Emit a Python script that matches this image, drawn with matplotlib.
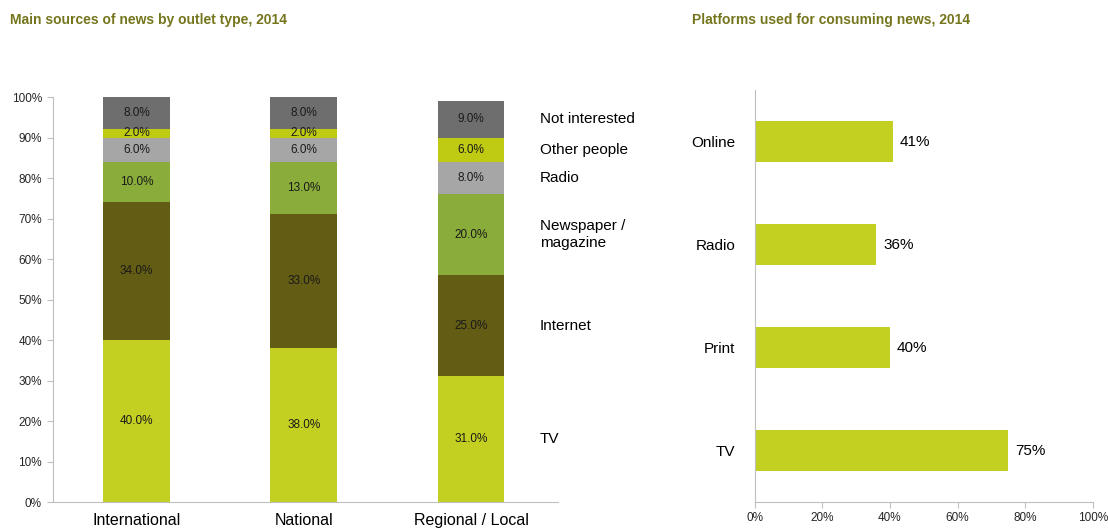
import numpy as np
import matplotlib
matplotlib.use('Agg')
import matplotlib.pyplot as plt

plt.rcParams['font.family'] = ['Liberation Sans', 'DejaVu Sans']

# left chart: main sources of news by outlet type
outlets = ['International', 'National', 'Regional / Local']
sources = ['TV', 'Internet', 'Newspaper /\nmagazine', 'Radio', 'Other people', 'Not interested']
tv = [40, 38, 31]
internet = [34, 33, 25]
newspaper = [10, 13, 20]
radio = [6, 6, 8]
other_people = [2, 2, 6]
not_interested = [8, 8, 9]
source_colors = ['#C4D021', '#635C14', '#8AAC3A', '#A6A6A6', '#BFCB12', '#6E6E6E']

# right chart: platforms used for consuming news
platforms = ['Online', 'Radio', 'Print', 'TV']
platform_share = [41, 36, 40, 75]

title_color = '#75751E'
axis_color = '#BFBFBF'

fig = plt.figure(figsize=(11.08, 5.28), dpi=100)

ax1 = fig.add_axes([0.0478, 0.0492, 0.4558, 0.767])
series = [tv, internet, newspaper, radio, other_people, not_interested]
x = np.arange(len(outlets))
bottom = np.zeros(len(outlets))
for name, vals, col in zip(sources, series, source_colors):
    vals = np.array(vals, dtype=float)
    ax1.bar(x, vals, 0.4, bottom=bottom, color=col)
    for xi, b, v in zip(x, bottom, vals):
        ax1.text(xi, b + v / 2, f'{v:.1f}%', ha='center', va='center',
                 fontsize=8.5, color='#1A1A1A')
    # series label next to the last bar
    ax1.text(2.41, bottom[-1] + vals[-1] / 2, name, ha='left', va='center',
             fontsize=11, color='#000000', linespacing=1.3)
    bottom += vals

ax1.set_xlim(-0.5, 2.52)
ax1.set_ylim(0, 100)
ax1.set_yticks(np.arange(0, 101, 10))
ax1.set_yticklabels([f'{t}%' for t in range(0, 101, 10)], fontsize=8.5, color='#262626')
ax1.set_xticks(x)
ax1.set_xticklabels(outlets, fontsize=11.5, color='#000000')
ax1.tick_params(axis='x', length=0, pad=8)
ax1.tick_params(axis='y', length=4, color=axis_color, pad=4)
for s in ['top', 'right']:
    ax1.spines[s].set_visible(False)
for s in ['left', 'bottom']:
    ax1.spines[s].set_color(axis_color)

fig.text(0.009, 0.962, 'Main sources of news by outlet type, 2014', fontsize=10,
         fontweight='bold', color=title_color, va='center', ha='left')

ax2 = fig.add_axes([0.681, 0.0492, 0.3054, 0.7803])
y = np.arange(len(platforms))[::-1]
ax2.barh(y, platform_share, 0.4, color='#C4D021')
for yi, v in zip(y, platform_share):
    ax2.text(v + 2, yi, f'{v}%', ha='left', va='center', fontsize=11, color='#000000')
ax2.set_xlim(0, 100)
ax2.set_ylim(-0.5, 3.5)
ax2.set_xticks(np.arange(0, 101, 20))
ax2.set_xticklabels([f'{t}%' for t in range(0, 101, 20)], fontsize=8.5, color='#262626')
ax2.set_yticks(y)
ax2.set_yticklabels(platforms, fontsize=11, color='#000000')
ax2.tick_params(axis='y', length=0, pad=14)
ax2.tick_params(axis='x', length=4, color=axis_color, pad=3)
for s in ['top', 'right']:
    ax2.spines[s].set_visible(False)
for s in ['left', 'bottom']:
    ax2.spines[s].set_color(axis_color)

fig.text(0.625, 0.962, 'Platforms used for consuming news, 2014', fontsize=10,
         fontweight='bold', color=title_color, va='center', ha='left')

fig.savefig('out.png', dpi=100)
